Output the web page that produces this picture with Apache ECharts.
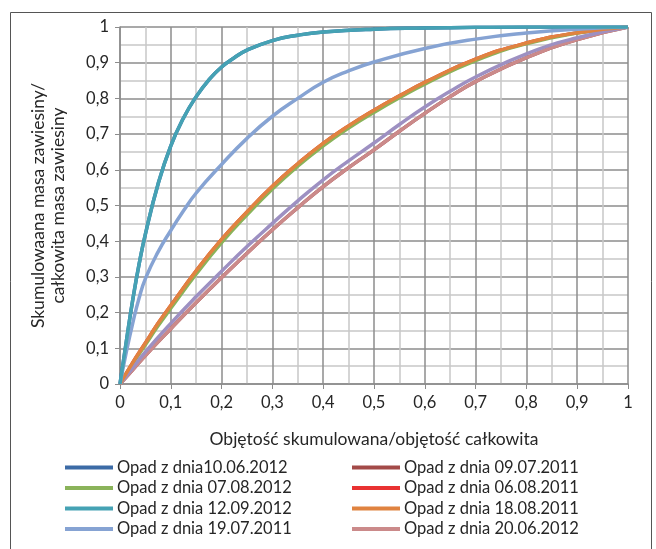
<!DOCTYPE html>
<html>
<head>
<meta charset="utf-8">
<script src="https://cdn.jsdelivr.net/npm/echarts@6/dist/echarts.min.js"></script>
<style>
  html, body { margin: 0; padding: 0; background: #fff; }
  #chart { width: 656px; height: 549px; }
</style>
</head>
<body>
<div id="chart"></div>
<script>
// [objetosc, masa]
var opad100612 = [[0,0],[0.0125,0.12],[0.025,0.235],[0.0375,0.335],[0.05,0.42],[0.075,0.56],[0.1,0.667],[0.125,0.745],[0.15,0.805],[0.175,0.852],[0.2,0.888],[0.225,0.914],[0.25,0.935],[0.3,0.962],[0.35,0.977],[0.4,0.986],[0.5,0.994],[0.6,0.997],[0.7,0.999],[0.8,1],[1,1]];
var opad070812 = [[0,0],[0.025,0.057],[0.05,0.11],[0.075,0.163],[0.1,0.212],[0.15,0.308],[0.2,0.396],[0.25,0.474],[0.3,0.546],[0.35,0.61],[0.4,0.667],[0.45,0.717],[0.5,0.761],[0.55,0.802],[0.6,0.84],[0.7,0.906],[0.8,0.953],[0.9,0.983],[1,1]];
var opad120912 = [[0,0],[0.0125,0.12],[0.025,0.235],[0.0375,0.335],[0.05,0.42],[0.075,0.56],[0.1,0.667],[0.125,0.745],[0.15,0.805],[0.175,0.852],[0.2,0.888],[0.225,0.914],[0.25,0.935],[0.3,0.962],[0.35,0.977],[0.4,0.986],[0.5,0.994],[0.6,0.997],[0.7,0.999],[0.8,1],[1,1]];
var opad190711 = [[0,0],[0.0125,0.09],[0.025,0.17],[0.0375,0.24],[0.05,0.295],[0.075,0.37],[0.1,0.43],[0.125,0.485],[0.15,0.535],[0.2,0.615],[0.25,0.688],[0.3,0.75],[0.35,0.8],[0.4,0.845],[0.45,0.877],[0.5,0.902],[0.6,0.94],[0.7,0.966],[0.8,0.983],[0.9,0.994],[1,1]];
var opad090711 = [[0,0],[0.025,0.04],[0.05,0.08],[0.1,0.155],[0.15,0.228],[0.2,0.298],[0.25,0.366],[0.3,0.432],[0.35,0.494],[0.4,0.553],[0.45,0.606],[0.5,0.656],[0.55,0.708],[0.6,0.758],[0.65,0.805],[0.7,0.847],[0.8,0.914],[0.9,0.965],[1,1]];
var opad060811 = [[0,0],[0.025,0.06],[0.05,0.115],[0.075,0.17],[0.1,0.22],[0.15,0.317],[0.2,0.405],[0.25,0.482],[0.3,0.554],[0.35,0.617],[0.4,0.674],[0.45,0.723],[0.5,0.767],[0.55,0.807],[0.6,0.845],[0.7,0.91],[0.8,0.955],[0.9,0.984],[1,1]];
var opad180811 = [[0,0],[0.025,0.06],[0.05,0.115],[0.075,0.17],[0.1,0.22],[0.15,0.317],[0.2,0.405],[0.25,0.482],[0.3,0.554],[0.35,0.617],[0.4,0.674],[0.45,0.723],[0.5,0.767],[0.55,0.807],[0.6,0.845],[0.7,0.91],[0.8,0.955],[0.9,0.984],[1,1]];
var opad200612 = [[0,0],[0.025,0.04],[0.05,0.08],[0.1,0.155],[0.15,0.228],[0.2,0.298],[0.25,0.366],[0.3,0.432],[0.35,0.494],[0.4,0.553],[0.45,0.606],[0.5,0.656],[0.55,0.708],[0.6,0.758],[0.65,0.805],[0.7,0.847],[0.8,0.914],[0.9,0.965],[1,1]];
// fioletowa krzywa bez wpisu w legendzie
var opadFiolet = [[0,0],[0.025,0.045],[0.05,0.09],[0.1,0.17],[0.15,0.245],[0.2,0.316],[0.25,0.385],[0.3,0.45],[0.35,0.513],[0.4,0.572],[0.45,0.625],[0.5,0.675],[0.55,0.727],[0.6,0.776],[0.65,0.82],[0.7,0.86],[0.8,0.925],[0.9,0.97],[1,1]];

var nazwyLewe = ['Opad z dnia10.06.2012', 'Opad z dnia 07.08.2012', 'Opad z dnia 12.09.2012', 'Opad z dnia 19.07.2011'];
var nazwyPrawe = ['Opad z dnia 09.07.2011', 'Opad z dnia 06.08.2011', 'Opad z dnia 18.08.2011', 'Opad z dnia 20.06.2012'];
var xLabel = 'Objętość skumulowana/objętość całkowita';
var yLabel = 'Skumulowaana masa zawiesiny/\ncałkowita masa zawiesiny';

var font = 'Lato, "Open Sans", sans-serif';
var chart = echarts.init(document.getElementById('chart'));

function seria(name, data, color, z) {
    return {
        name: name,
        type: 'line',
        data: data,
        smooth: 0.5,
        showSymbol: false,
        symbol: 'none',
        z: z,
        color: color,
        lineStyle: { width: 3.5, color: color },
        animation: false
    };
}

function fmt(v) {
    return String(Math.round(v * 10) / 10).replace('.', ',');
}

var legendCommon = {
    orient: 'vertical',
    icon: 'rect',
    itemWidth: 48,
    itemHeight: 4,
    itemGap: 3.5,
    padding: 0,
    textStyle: { fontFamily: font, fontSize: 16.5, color: '#262626', padding: [0, 0, 0, -1] },
    selectedMode: false
};

var option = {
    backgroundColor: '#fff',
    animation: false,
    grid: { left: 120, right: 28, top: 27, bottom: 165 },
    legend: [
        Object.assign({ left: 65, top: 459, data: nazwyLewe }, legendCommon),
        Object.assign({ left: 352, top: 459, data: nazwyPrawe }, legendCommon)
    ],
    xAxis: {
        type: 'value', min: 0, max: 1, interval: 0.1,
        name: xLabel, nameLocation: 'middle', nameGap: 46,
        nameTextStyle: { fontFamily: font, fontSize: 17.5, color: '#262626' },
        axisLine: { lineStyle: { color: '#8c8c8c', width: 1.5 } },
        axisTick: { show: true, length: 5, lineStyle: { color: '#8c8c8c' } },
        axisLabel: { formatter: fmt, fontFamily: font, fontSize: 16.5, color: '#262626', margin: 10 },
        splitLine: { show: true, lineStyle: { color: '#8c8c8c', width: 1.5 } },
        minorTick: { show: false, splitNumber: 2 },
        minorSplitLine: { show: true, lineStyle: { color: '#c8c8c8', width: 1.5 } }
    },
    yAxis: {
        type: 'value', min: 0, max: 1, interval: 0.1,
        name: yLabel, nameLocation: 'middle', nameGap: 52, nameRotate: 90,
        nameTextStyle: { fontFamily: font, fontSize: 17.5, color: '#262626', lineHeight: 20 },
        axisLine: { show: true, lineStyle: { color: '#8c8c8c', width: 1.5 } },
        axisTick: { show: true, length: 5, lineStyle: { color: '#8c8c8c' } },
        axisLabel: { formatter: fmt, fontFamily: font, fontSize: 16.5, color: '#262626', margin: 11 },
        splitLine: { show: true, lineStyle: { color: '#8c8c8c', width: 1.5 } },
        minorTick: { show: false, splitNumber: 2 },
        minorSplitLine: { show: true, lineStyle: { color: '#c8c8c8', width: 1.5 } }
    },
    graphic: [{
        type: 'rect',
        shape: { x: 10.5, y: 12.5, width: 641, height: 560 },
        style: { fill: 'none', stroke: '#555', lineWidth: 1 },
        silent: true
    }],
    series: [
        seria(nazwyLewe[0], opad100612, '#3c6ba6', 2),
        seria(nazwyLewe[1], opad070812, '#8ab35a', 3),
        seria(nazwyPrawe[1], opad060811, '#e93232', 2),
        seria(nazwyPrawe[0], opad090711, '#a34a48', 2),
        seria(nazwyPrawe[3], opad200612, '#cb8a8a', 3),
        seria('', opadFiolet, '#9d90c2', 4),
        seria(nazwyPrawe[2], opad180811, '#e08340', 5),
        seria(nazwyLewe[3], opad190711, '#86a3d3', 5),
        seria(nazwyLewe[2], opad120912, '#45a2b4', 6)
    ]
};
chart.setOption(option);
</script>
</body>
</html>
